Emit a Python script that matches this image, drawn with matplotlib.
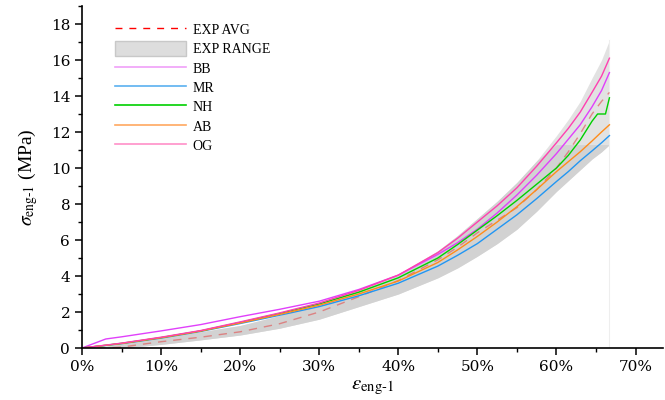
import matplotlib.pyplot as plt
from matplotlib.lines import Line2D
from matplotlib.patches import Patch
from matplotlib.ticker import MultipleLocator, PercentFormatter
import numpy as np

plt.rcParams['mathtext.fontset'] = 'stix'

# strain grid shared by the curves
strain = [0.0, 0.03, 0.05, 0.10, 0.15, 0.20, 0.25, 0.30, 0.35, 0.40,
          0.45, 0.475, 0.50, 0.525, 0.55, 0.575, 0.60, 0.615, 0.63,
          0.645, 0.657, 0.667]

exp_avg = [0.0, 0.0, 0.05, 0.35, 0.6, 0.9, 1.35, 2.0, 2.85, 3.75,
           4.9, 5.6, 6.4, 7.1, 7.8, 8.8, 10.0, 10.9, 11.9,
           13.0, 13.7, 14.2]
exp_low = [0.0, 0.0, 0.0, 0.2, 0.45, 0.72, 1.1, 1.6, 2.3, 3.0,
           3.9, 4.45, 5.1, 5.8, 6.6, 7.6, 8.7, 9.3, 9.9,
           10.5, 10.9, 11.3]
exp_high = [0.0, 0.1, 0.25, 0.6, 0.9, 1.25, 1.8, 2.5, 3.25, 4.1,
            5.4, 6.25, 7.2, 8.15, 9.2, 10.4, 11.8, 12.7, 13.7,
            15.0, 16.0, 17.1]

bb = [0.0, 0.5, 0.62, 0.95, 1.3, 1.74, 2.15, 2.6, 3.25, 4.05,
      5.2, 5.85, 6.6, 7.5, 8.5, 9.6, 10.8, 11.6, 12.4,
      13.4, 14.3, 15.3]
mr = [0.0, 0.14, 0.24, 0.55, 0.92, 1.36, 1.82, 2.3, 2.9, 3.6,
      4.55, 5.15, 5.8, 6.6, 7.4, 8.3, 9.25, 9.8, 10.4,
      10.95, 11.4, 11.8]
ab = [0.0, 0.15, 0.25, 0.57, 0.94, 1.39, 1.87, 2.38, 3.0, 3.72,
      4.75, 5.45, 6.2, 7.0, 7.85, 8.8, 9.8, 10.35, 10.9,
      11.5, 12.0, 12.4]
og = [0.0, 0.16, 0.27, 0.6, 0.97, 1.45, 1.95, 2.5, 3.2, 4.05,
      5.3, 6.1, 7.0, 7.9, 8.9, 10.1, 11.4, 12.2, 13.1,
      14.2, 15.1, 16.1]

# NH has a small jag near the end
nh_strain = [0.0, 0.03, 0.05, 0.10, 0.15, 0.20, 0.25, 0.30, 0.35, 0.40,
             0.45, 0.475, 0.50, 0.525, 0.55, 0.575, 0.60, 0.615, 0.63,
             0.645, 0.652, 0.662, 0.667]
nh = [0.0, 0.15, 0.26, 0.58, 0.95, 1.42, 1.92, 2.45, 3.1, 3.9,
      5.0, 5.75, 6.55, 7.35, 8.2, 9.1, 10.0, 10.7, 11.55,
      12.6, 13.0, 13.0, 13.9]

fig = plt.figure(figsize=(6.65, 4.0), dpi=100)
ax = fig.add_axes([0.1233, 0.13, 0.874, 0.855])

lo = np.array(exp_low)
hi = np.array(exp_high)
ax.fill_between(strain, lo, hi, color='#e2e2e2', lw=0)
ax.fill_between(strain, lo, np.minimum(hi, 11.3), color='#d2d2d2', lw=0)
ax.plot([strain[-1], strain[-1]], [0, exp_high[-1]], color='#eeeeee', lw=0.8)

ax.plot(strain, exp_avg, color='#e06060', ls=(0, (6, 5)), lw=1.0, alpha=0.7)
ax.plot(strain, bb, color='#e040fb', lw=1.0)
ax.plot(strain, mr, color='#2196f3', lw=1.0)
ax.plot(nh_strain, nh, color='#00d000', lw=1.0)
ax.plot(strain, ab, color='#ff8c1a', lw=1.0)
ax.plot(strain, og, color='#ff40b0', lw=1.0)

handles = [
    Line2D([], [], color='red', ls=(0, (5, 5)), lw=1.0),
    Patch(facecolor='#dddddd', edgecolor='#c8c8c8'),
    Line2D([], [], color='#f0a0f8', lw=1.2),
    Line2D([], [], color='#5ab0f0', lw=1.2),
    Line2D([], [], color='#00d000', lw=1.2),
    Line2D([], [], color='#ffa860', lw=1.2),
    Line2D([], [], color='#ff90c8', lw=1.2),
]
labels = ['EXP AVG', 'EXP RANGE', 'BB', 'MR', 'NH', 'AB', 'OG']
ax.legend(handles, labels, loc='upper left', bbox_to_anchor=(0.035, 0.99),
          frameon=False, handlelength=5.1, handleheight=1.2,
          labelspacing=0.33, handletextpad=0.5,
          prop={'family': 'Liberation Serif', 'size': 10})

ax.set_xlim(0, 0.735)
ax.set_ylim(0, 19)
ax.xaxis.set_major_locator(MultipleLocator(0.1))
ax.xaxis.set_minor_locator(MultipleLocator(0.05))
ax.xaxis.set_major_formatter(PercentFormatter(1.0, decimals=0))
ax.yaxis.set_major_locator(MultipleLocator(2))
ax.yaxis.set_minor_locator(MultipleLocator(1))

ax.spines['top'].set_visible(False)
ax.spines['right'].set_visible(False)
for s in ['left', 'bottom']:
    ax.spines[s].set_linewidth(1.2)
ax.tick_params(which='major', direction='out', length=5, width=1.1,
               labelsize=11)
ax.tick_params(which='minor', direction='out', length=3, width=1.0)
for lab in ax.get_xticklabels() + ax.get_yticklabels():
    lab.set_family('DejaVu Serif')

ax.set_xlabel(r'$\epsilon_{\mathrm{eng\text{-}1}}$', fontsize=15, labelpad=2)
ax.set_ylabel(r'$\sigma_{\mathrm{eng\text{-}1}}$ (MPa)', fontsize=14,
              family='Liberation Serif', labelpad=8)

fig.savefig('out.png', dpi=100)
